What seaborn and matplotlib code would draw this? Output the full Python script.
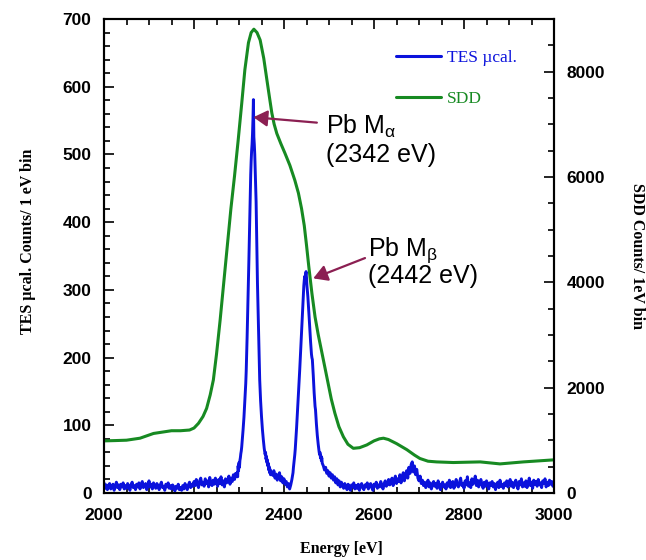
import matplotlib
matplotlib.use("Agg")
import matplotlib.pyplot as plt
import numpy as np
import pandas as pd
import seaborn as sns
from matplotlib.lines import Line2D
from matplotlib.ticker import MultipleLocator

sns.set_style("ticks")
plt.rcParams["font.family"] = ["Liberation Sans", "DejaVu Sans"]
plt.rcParams["font.weight"] = "bold"
plt.rcParams["mathtext.fontset"] = "custom"
plt.rcParams["mathtext.rm"] = "Liberation Sans:normal"
plt.rcParams["mathtext.it"] = "Liberation Sans:normal"
for key in ["text.color", "axes.labelcolor", "xtick.color", "ytick.color",
            "axes.edgecolor"]:
    plt.rcParams[key] = "black"

TES_BLUE = "#0b12dc"
SDD_GREEN = "#178a22"
ARROW = "#8b1f52"
SERIF = "Liberation Serif"

# ---------------------------------------------------------------------------
# TES spectrum (counts per bin)
# ---------------------------------------------------------------------------
# 2000 - 2295 eV, every 2.5 eV
tes_low = [
    15, 7, 12, 5, 11, 14, 6, 9, 13, 4,
    10, 16, 8, 12, 5, 13, 9, 15, 6, 11,
    7, 14, 10, 4, 12, 16, 8, 11, 5, 13,
    9, 15, 6, 12, 17, 8, 10, 14, 5, 11,
    18, 9, 13, 6, 15, 10, 7, 14, 11, 5,
    12, 16, 8, 10, 4, 13, 9, 15, 7, 11,
    6, 12, 9, 3, 10, 7, 13, 5, 8, 4,
    11, 6, 14, 9, 5, 12, 16, 8, 13, 10,
    17, 11, 20, 13, 8, 18, 22, 12, 16, 10,
    21, 14, 18, 9, 23, 15, 11, 19, 13, 22,
    16, 10, 20, 14, 24, 12, 18, 9, 21, 15,
    19, 25, 13, 22, 17, 27, 20, 29, 24,
]
# 2296 - 2370 eV, every 1 eV (Pb M-alpha)
tes_ma = [
    30, 24, 40, 33, 45, 38, 48, 52, 58, 62,
    68, 76, 84, 93, 102, 112, 124, 136, 150, 162,
    180, 204, 230, 258, 285, 315, 345, 378, 412, 447,
    470, 490, 505, 515, 530, 551, 581, 526, 515, 500,
    476, 455, 430, 390, 345, 310, 280, 250, 220, 192,
    167, 150, 136, 124, 113, 103, 94, 86, 79, 72,
    66, 62, 57, 60, 50, 54, 45, 49, 40, 44,
    34, 39, 30, 35, 27,
]
# 2372.5 - 2420 eV, every 2.5 eV
tes_gap = [
    31, 26, 33, 22, 28, 19, 25, 30, 18, 24,
    15, 21, 13, 17, 9, 14, 6, 12, 20, 30,
]
# 2421 - 2485 eV, every 1 eV (Pb M-beta)
tes_mb = [
    38, 44, 50, 57, 65, 75, 85, 97, 110, 123,
    135, 146, 158, 170, 183, 197, 210, 224, 238, 254,
    270, 284, 296, 306, 314, 320, 318, 322, 327, 318,
    306, 298, 290, 280, 270, 258, 246, 235, 224, 214,
    205, 200, 197, 186, 174, 160, 148, 137, 128, 123,
    112, 102, 93, 85, 78, 72, 66, 61, 57, 60,
    52, 55, 48, 52, 44,
]
# 2487.5 - 3000 eV, every 2.5 eV
tes_high = [
    40, 34, 38, 29, 33, 25, 30, 22, 27, 19,
    24, 15, 21, 12, 18, 9, 16, 11, 7, 14,
    10, 5, 13, 8, 4, 12, 9, 15, 6, 11,
    7, 13, 4, 10, 14, 8, 5, 12, 9, 15,
    6, 11, 14, 8, 4, 13, 10, 16, 7, 12,
    9, 17, 11, 6, 14, 18, 10, 13, 20, 12,
    16, 22, 11, 19, 25, 14, 21, 17, 27, 15,
    23, 30, 18, 26, 33, 22, 38, 29, 42, 46,
    31, 40, 27, 35, 22, 18, 25, 14, 19, 11,
    16, 8, 13, 19, 9, 15, 6, 12, 17, 10,
    14, 7, 18, 11, 5, 13, 16, 9, 12, 6,
    15, 10, 19, 8, 13, 17, 7, 11, 20, 12,
    9, 16, 22, 11, 14, 7, 18, 12, 24, 10,
    15, 8, 21, 13, 17, 25, 11, 19, 9, 14,
    20, 12, 7, 16, 10, 18, 13, 6, 15, 11,
    17, 9, 14, 5, 12, 16, 8, 19, 10, 13,
    7, 15, 11, 18, 9, 14, 20, 10, 16, 8,
    13, 19, 11, 6, 17, 12, 21, 9, 15, 10,
    18, 8, 14, 22, 11, 16, 7, 19, 13, 17,
    10, 20, 12, 15, 8, 18, 14, 21, 9, 16,
    11, 19, 13, 17, 10, 15,
]
tes_segments = [
    (2000, 2.5, tes_low),
    (2296, 1, tes_ma),
    (2372.5, 2.5, tes_gap),
    (2421, 1, tes_mb),
    (2487.5, 2.5, tes_high),
]

# ---------------------------------------------------------------------------
# SDD spectrum (right axis)
# ---------------------------------------------------------------------------
sdd_energy = [2000, 2025, 2050, 2080, 2110, 2130, 2150, 2170, 2190, 2200,
              2210, 2220, 2228, 2236, 2243, 2250, 2258, 2266, 2274, 2282,
              2290, 2298, 2306, 2313, 2321, 2327, 2333, 2340, 2347, 2355,
              2362, 2368, 2373, 2378, 2384, 2393, 2402, 2413, 2424, 2432,
              2439, 2445, 2450, 2455, 2462, 2469, 2476, 2484, 2491, 2498,
              2505, 2513, 2522, 2532, 2542, 2554, 2568, 2584, 2600, 2612,
              2621, 2632, 2650, 2673, 2690, 2702, 2720, 2739, 2776, 2836,
              2880, 2932, 3000]
sdd_counts = [990, 996, 1003, 1041, 1131, 1157, 1183, 1183, 1196, 1234,
              1324, 1453, 1607, 1864, 2147, 2636, 3279, 3986, 4693, 5400,
              6017, 6686, 7393, 8036, 8550, 8743, 8807, 8743, 8601, 8254,
              7843, 7496, 7213, 7007, 6827, 6634, 6454, 6223, 5940, 5696,
              5400, 5079, 4706, 4307, 3793, 3343, 3009, 2674, 2379, 2083,
              1787, 1517, 1260, 1067, 926, 849, 861, 913, 990, 1029,
              1041, 1016, 939, 823, 720, 656, 604, 591, 579, 591,
              553, 591, 630]

rows = []
for start, step, counts in tes_segments:
    for i, c in enumerate(counts):
        rows.append((start + step * i, c))
tes = pd.DataFrame(rows, columns=["energy", "counts"])
sdd = pd.DataFrame({"energy": sdd_energy, "counts": sdd_counts})

fig, ax = plt.subplots(figsize=(6.46, 5.6), dpi=100)
fig.subplots_adjust(left=0.161, right=0.8576, bottom=0.1196, top=0.966)

sns.lineplot(data=tes, x="energy", y="counts", ax=ax, color=TES_BLUE,
             lw=2.1, estimator=None, sort=False, solid_joinstyle="round")
ax2 = ax.twinx()
sns.lineplot(data=sdd, x="energy", y="counts", ax=ax2, color=SDD_GREEN,
             lw=2.2, estimator=None, sort=False, solid_joinstyle="round")

ax.set_xlim(2000, 3000)
ax.set_ylim(0, 700)
ax2.set_ylim(0, 9000)

ax.xaxis.set_major_locator(MultipleLocator(200))
ax.xaxis.set_minor_locator(MultipleLocator(50))
ax.yaxis.set_major_locator(MultipleLocator(100))
ax.yaxis.set_minor_locator(MultipleLocator(20))
ax2.yaxis.set_major_locator(MultipleLocator(2000))
ax2.yaxis.set_minor_locator(MultipleLocator(500))

ax.tick_params(axis="x", which="both", direction="in", top=True, bottom=True,
               width=1.2, labelsize=12.5, pad=11)
ax.tick_params(axis="y", which="both", direction="in", left=True, right=False,
               width=1.2, labelsize=12.5, pad=9)
ax2.tick_params(axis="y", which="both", direction="in", right=True, left=False,
                width=1.2, labelsize=12.5, pad=9)
for a in (ax, ax2):
    a.tick_params(which="major", length=7)
    a.tick_params(which="minor", length=4)
    for s in a.spines.values():
        s.set_linewidth(1.5)

lab_kw = dict(fontfamily=SERIF, fontweight="bold", fontsize=11.5)
ax.set_xlabel("Energy [eV]", **lab_kw)
ax.set_ylabel("TES µcal. Counts/ 1 eV bin", **lab_kw)
ax2.set_ylabel("SDD Counts/ 1eV bin", rotation=-90, **lab_kw)
ax.xaxis.set_label_coords(0.527, -0.118)
ax.yaxis.set_label_coords(-0.168, 0.53)
ax2.yaxis.set_label_coords(1.184, 0.5)
for lab in (ax.xaxis.label, ax.yaxis.label, ax2.yaxis.label):
    lab.set_va("center")
    lab.set_ha("center")

handles = [Line2D([], [], color=TES_BLUE, lw=2.2),
           Line2D([], [], color=SDD_GREEN, lw=2.2)]
ax2.legend(handles, ["TES µcal.", "SDD"], loc="upper left",
           bbox_to_anchor=(0.649, 0.934), frameon=False,
           prop={"family": SERIF, "size": 12.5, "weight": "normal"},
           handlelength=2.6, handletextpad=0.35, labelspacing=1.42,
           borderpad=0, borderaxespad=0, labelcolor="linecolor")

# peak annotations
txt_kw = dict(fontsize=18, fontweight="normal", va="baseline")
ax.text(2493, 531, "Pb M$_\\mathrm{α}$", **txt_kw)
ax.text(2493, 489, "(2342 eV)", **txt_kw)
ax.text(2587, 351, "Pb M$_\\mathrm{β}$", **txt_kw)
ax.text(2587, 310, "(2442 eV)", **txt_kw)

arrow_kw = dict(arrowstyle="-|>,head_length=0.6,head_width=0.35", color=ARROW,
                lw=1.6, mutation_scale=14, shrinkA=0, shrinkB=0)
ax2.annotate("", xy=(2332, 555), xycoords=ax.transData,
             xytext=(2473, 547), textcoords=ax.transData, arrowprops=arrow_kw)
ax2.annotate("", xy=(2465, 317), xycoords=ax.transData,
             xytext=(2580, 347), textcoords=ax.transData, arrowprops=arrow_kw)

fig.savefig("out.png", dpi=100)
